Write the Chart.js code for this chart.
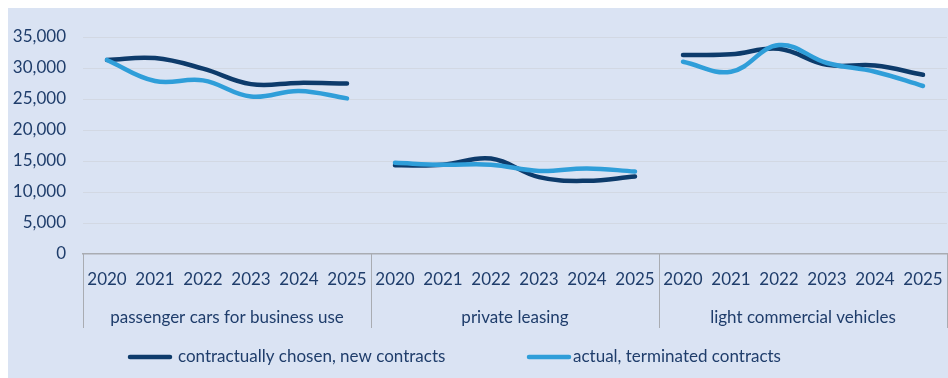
<!DOCTYPE html>
<html>
<head>
<meta charset="utf-8">
<script src="https://cdn.jsdelivr.net/npm/chart.js@4/dist/chart.umd.min.js"></script>
<style>
  html, body { margin: 0; padding: 0; background: #ffffff; overflow: hidden; }
  #frame { position: absolute; left: 8px; top: 8px; width: 940px; height: 370px; background: #dae3f3; }
  #frame canvas { display: block; }
</style>
</head>
<body>
<div id="frame"><canvas id="chart"></canvas></div>
<script>
// Categories
const years = ['2020', '2021', '2022', '2023', '2024', '2025'];
const groups = ['passenger cars for business use', 'private leasing', 'light commercial vehicles'];

// Series names
const seriesChosen = 'contractually chosen, new contracts';
const seriesActual = 'actual, terminated contracts';

// Contractually chosen mileage, new contracts (km per year)
const chosenPassenger = [31300, 31600, 29900, 27400, 27600, 27500];
const chosenPrivate   = [14300, 14400, 15400, 12400, 11800, 12500];
const chosenLcv       = [32100, 32200, 33100, 30500, 30400, 28900];

// Actual mileage, terminated contracts (km per year)
const actualPassenger = [31300, 27900, 28000, 25400, 26300, 25100];
const actualPrivate   = [14700, 14400, 14400, 13400, 13800, 13300];
const actualLcv       = [31000, 29400, 33700, 30800, 29400, 27100];

// Y axis ticks
const yTicks = [0, 5000, 10000, 15000, 20000, 25000, 30000, 35000];

const DARK = '#0d3b6b';
const LIGHT = '#2f9ed9';
const TEXT = '#1f3d6b';
const GRID = '#d2d8e3';
const AXIS = '#a9acb2';
const FONT = 'Lato';

// One x label per year in each group
const xLabels = groups.flatMap(() => years);

// Place one group's values into the full 18-slot row, leaving the others empty
function inGroup(values, g) {
  const row = new Array(xLabels.length).fill(null);
  values.forEach((v, i) => { row[g * years.length + i] = v; });
  return row;
}

function series(label, color, parts) {
  return parts.map((vals, g) => ({
    label: label,
    data: inGroup(vals, g),
    borderColor: color,
    backgroundColor: color,
    borderWidth: 4.5,
    borderCapStyle: 'round',
    borderJoinStyle: 'round',
    pointRadius: 0,
    pointHoverRadius: 0,
    tension: 0.4,
    spanGaps: false,
    fill: false
  }));
}

const datasets = [
  ...series(seriesActual, LIGHT, [actualPassenger, actualPrivate, actualLcv]),
  ...series(seriesChosen, DARK, [chosenPassenger, chosenPrivate, chosenLcv])
];

// Vertical dividers between the category groups, below the plot
const groupDividers = {
  id: 'groupDividers',
  afterDraw(chart) {
    const x = chart.scales.x;
    const x2 = chart.scales.x2;
    const step = x.getPixelForValue(1) - x.getPixelForValue(0);
    const ctx = chart.ctx;
    ctx.save();
    ctx.strokeStyle = AXIS;
    ctx.lineWidth = 1;
    for (let g = 0; g <= groups.length; g++) {
      const px = Math.round(x.getPixelForValue(g * years.length) - step / 2) + 0.5;
      ctx.beginPath();
      ctx.moveTo(px, chart.chartArea.bottom);
      ctx.lineTo(px, x2.bottom);
      ctx.stroke();
    }
    ctx.restore();
  }
};

// Legend row with line samples
const lineLegend = {
  id: 'lineLegend',
  afterDraw(chart) {
    const ctx = chart.ctx;
    const left = chart.chartArea.left;
    const y = chart.scales.x2.bottom + 29;
    const items = [
      { text: seriesChosen, color: DARK, x: left + 45, gap: 6 },
      { text: seriesActual, color: LIGHT, x: left + 444, gap: 2 }
    ];
    ctx.save();
    ctx.font = '17px ' + FONT;
    ctx.textBaseline = 'middle';
    ctx.textAlign = 'left';
    items.forEach(it => {
      ctx.strokeStyle = it.color;
      ctx.lineWidth = 4.5;
      ctx.lineCap = 'round';
      ctx.beginPath();
      ctx.moveTo(it.x + 2, y);
      ctx.lineTo(it.x + 42, y);
      ctx.stroke();
      ctx.fillStyle = TEXT;
      ctx.fillText(it.text, it.x + 44 + it.gap, y);
    });
    ctx.restore();
  }
};

new Chart(document.getElementById('chart'), {
  type: 'line',
  data: { labels: xLabels, datasets },
  options: {
    responsive: true,
    maintainAspectRatio: false,
    animation: false,
    events: [],
    layout: { padding: { top: 29, right: 1, bottom: 50, left: 0 } },
    plugins: {
      legend: { display: false },
      tooltip: { enabled: false },
      title: { display: false }
    },
    scales: {
      y: {
        min: 0,
        max: 35000,
        afterBuildTicks(scale) { scale.ticks = yTicks.map(v => ({ value: v })); },
        afterFit(scale) { scale.width = 75; },
        grid: {
          drawTicks: false,
          color: c => (c.tick && c.tick.value === 0 ? 'rgba(0,0,0,0)' : GRID),
          lineWidth: 1
        },
        border: { display: false },
        ticks: {
          padding: 17,
          color: TEXT,
          font: { family: FONT, size: 17 },
          callback: v => v.toLocaleString('en-US')
        }
      },
      x: {
        type: 'category',
        position: 'bottom',
        offset: true,
        afterFit(scale) {
          scale.height = 46;
          scale.paddingLeft = 0;
          scale.paddingRight = 0;
        },
        grid: { display: false, drawTicks: false },
        border: { display: true, color: AXIS, width: 1.5 },
        ticks: {
          padding: 15,
          color: TEXT,
          maxRotation: 0,
          autoSkip: false,
          font: { family: FONT, size: 17 }
        }
      },
      x2: {
        type: 'category',
        position: 'bottom',
        labels: groups,
        offset: true,
        afterFit(scale) {
          scale.height = 28;
          scale.paddingLeft = 0;
          scale.paddingRight = 0;
        },
        grid: { display: false, drawTicks: false },
        border: { display: false },
        ticks: {
          padding: 7,
          color: TEXT,
          maxRotation: 0,
          autoSkip: false,
          font: { family: FONT, size: 17 }
        }
      }
    }
  },
  plugins: [groupDividers, lineLegend]
});
</script>
</body>
</html>
